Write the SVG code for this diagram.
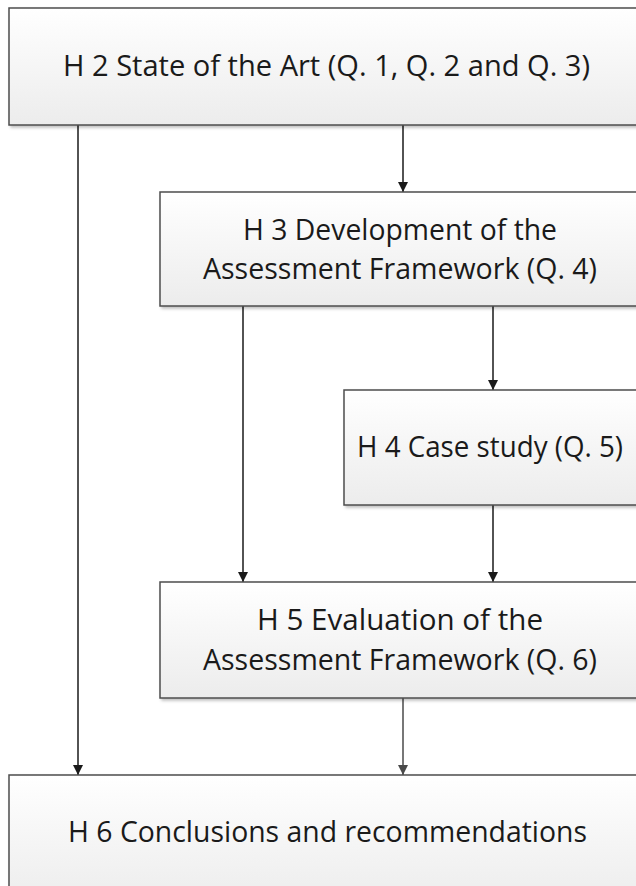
<svg xmlns="http://www.w3.org/2000/svg" width="636" height="886" viewBox="0 0 636 886">
  <defs>
    <linearGradient id="boxFill" x1="0" y1="0" x2="0" y2="1">
      <stop offset="0" stop-color="#ffffff"/>
      <stop offset="1" stop-color="#ececec"/>
    </linearGradient>
    <filter id="shadow" x="-5%" y="-5%" width="110%" height="115%">
      <feDropShadow dx="2" dy="2" stdDeviation="1.5" flood-color="#000" flood-opacity="0.25"/>
    </filter>
    <!-- downward-pointing arrowheads, tip at the end of the line -->
    <marker id="arrow" markerWidth="10" markerHeight="10" refX="5" refY="10" markerUnits="userSpaceOnUse" viewBox="0 0 10 10">
      <path d="M0,0 L10,0 L5,10 Z" fill="#1a1a1a"/>
    </marker>
    <marker id="arrowGray" markerWidth="10" markerHeight="10" refX="5" refY="10" markerUnits="userSpaceOnUse" viewBox="0 0 10 10">
      <path d="M0,0 L10,0 L5,10 Z" fill="#4a4a4a"/>
    </marker>
  </defs>
  <style>
    .box { fill: url(#boxFill); stroke: #4d4d4d; stroke-width: 1.5; filter: url(#shadow); }
    .label { font-family: "Open Sans", "Liberation Sans", sans-serif; font-size: 29.5px; fill: #1a1a1a; text-anchor: middle; }
    .edge { fill: none; stroke: #1a1a1a; stroke-width: 1.5; }
    .edge-gray { fill: none; stroke: #4a4a4a; stroke-width: 1.5; }
  </style>

  <rect width="636" height="886" fill="#ffffff"/>

  <g id="connectors">
    <line class="edge" x1="78" y1="125" x2="78" y2="775" marker-end="url(#arrow)"/>
    <line class="edge" x1="403" y1="125" x2="403" y2="192" marker-end="url(#arrow)"/>
    <line class="edge" x1="243" y1="306" x2="243" y2="582" marker-end="url(#arrow)"/>
    <line class="edge" x1="493" y1="306" x2="493" y2="390" marker-end="url(#arrow)"/>
    <line class="edge" x1="493" y1="505" x2="493" y2="582" marker-end="url(#arrow)"/>
    <line class="edge-gray" x1="403" y1="698" x2="403" y2="775" marker-end="url(#arrowGray)"/>
  </g>

  <g id="h2">
    <rect class="box" x="9" y="8" width="640" height="117"/>
    <text class="label" x="326.5" y="76" textLength="527" lengthAdjust="spacingAndGlyphs">H 2 State of the Art (Q. 1, Q. 2 and Q. 3)</text>
  </g>

  <g id="h3">
    <rect class="box" x="160" y="192" width="490" height="114"/>
    <text class="label" x="400" y="240" textLength="314" lengthAdjust="spacingAndGlyphs">H 3 Development of the</text>
    <text class="label" x="400" y="279" textLength="394" lengthAdjust="spacingAndGlyphs">Assessment Framework (Q. 4)</text>
  </g>

  <g id="h4">
    <rect class="box" x="344" y="390" width="306" height="115"/>
    <text class="label" x="490" y="457" textLength="266" lengthAdjust="spacingAndGlyphs">H 4 Case study (Q. 5)</text>
  </g>

  <g id="h5">
    <rect class="box" x="160" y="582" width="490" height="116"/>
    <text class="label" x="400" y="630" textLength="286" lengthAdjust="spacingAndGlyphs">H 5 Evaluation of the</text>
    <text class="label" x="400" y="670" textLength="394" lengthAdjust="spacingAndGlyphs">Assessment Framework (Q. 6)</text>
  </g>

  <g id="h6">
    <rect class="box" x="9" y="775" width="640" height="130"/>
    <text class="label" x="327.5" y="842" textLength="519" lengthAdjust="spacingAndGlyphs">H 6 Conclusions and recommendations</text>
  </g>
</svg>
